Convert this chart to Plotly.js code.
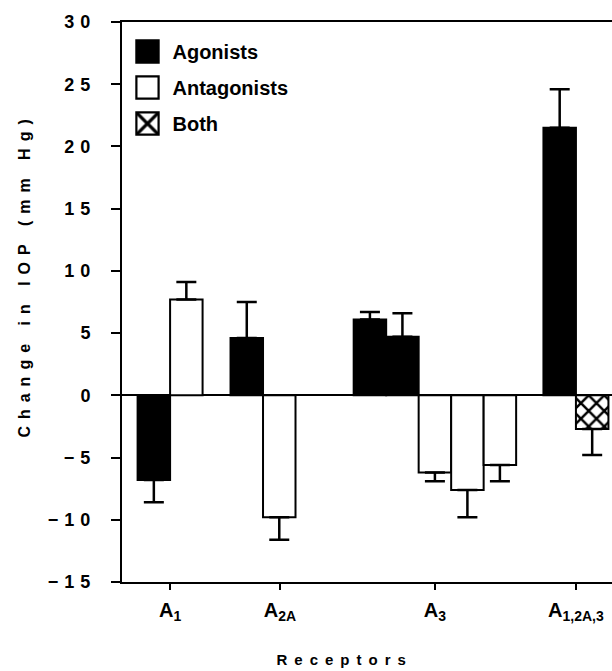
<!DOCTYPE html>
<html>
<head>
<meta charset="utf-8">
<script src="https://cdn.plot.ly/plotly-3.0.1.min.js"></script>
<style>
  html, body { margin: 0; padding: 0; background: #ffffff; }
  #chart { width: 612px; height: 671px; }
</style>
</head>
<body>
<div id="chart"></div>
<script>
// ---- data ----
const receptorLabels = ['A<sub>1</sub>', 'A<sub>2A</sub>', 'A<sub>3</sub>', 'A<sub>1,2A,3</sub>'];
const receptorPos = [1.48, 4.86, 9.63, 13.97];

const agonistX = [0.98, 3.84, 7.63, 8.63, 13.47];
const agonistY = [-6.8, 4.6, 6.1, 4.7, 21.5];
const agonistErr = [1.8, 2.9, 0.6, 1.9, 3.1];

const antagonistX = [1.98, 4.84, 9.63, 10.63, 11.63];
const antagonistY = [7.7, -9.8, -6.2, -7.6, -5.6];
const antagonistErr = [1.4, 1.8, 0.7, 2.2, 1.3];

const bothX = [14.47];
const bothY = [-2.7];
const bothErr = [2.1];

const yTicks = [-15, -10, -5, 0, 5, 10, 15, 20, 25, 30];

// one-sided (outward) error bars
function errUp(vals, errs) { return vals.map((v, i) => v >= 0 ? errs[i] : 0); }
function errDown(vals, errs) { return vals.map((v, i) => v < 0 ? errs[i] : 0); }

const FONT = 'Liberation Sans, Arial, Helvetica, sans-serif';
const errStyle = (vals, errs) => ({
  type: 'data', symmetric: false,
  array: errUp(vals, errs), arrayminus: errDown(vals, errs),
  color: '#000', thickness: 2.5, width: 10
});

const traces = [
  {
    type: 'bar', name: 'Agonists', legendgroup: 'a',
    x: agonistX, y: agonistY, width: 1,
    marker: { color: '#000', line: { color: '#000', width: 2 } },
    error_y: errStyle(agonistY, agonistErr)
  },
  {
    type: 'bar', name: 'Antagonists', legendgroup: 'b',
    x: antagonistX, y: antagonistY, width: 1,
    marker: { color: '#fff', line: { color: '#000', width: 2 } },
    error_y: errStyle(antagonistY, antagonistErr)
  },
  {
    type: 'bar', name: 'Both', legendgroup: 'c',
    x: bothX, y: bothY, width: 1,
    marker: {
      color: '#fff', line: { color: '#000', width: 2 },
      pattern: { shape: 'x', fgcolor: '#000', bgcolor: '#fff', size: 11, solidity: 0.4 }
    },
    error_y: errStyle(bothY, bothErr)
  }
];

const layout = {
  width: 612, height: 671,
  margin: { l: 122, r: 0, t: 22, b: 89 },
  paper_bgcolor: '#fff', plot_bgcolor: '#fff',
  barmode: 'overlay',
  showlegend: true,
  legend: {
    x: 0.001, y: 0.982, xanchor: 'left', yanchor: 'top',
    bgcolor: 'rgba(0,0,0,0)', borderwidth: 0,
    font: { family: FONT, size: 20, color: '#000', weight: 'bold' },
    itemwidth: 40, tracegroupgap: 7, traceorder: 'grouped'
  },
  xaxis: {
    range: [0, 15.08], showgrid: false, zeroline: false,
    showline: true, mirror: true, linecolor: '#000', linewidth: 2,
    ticks: 'outside', ticklen: 6, tickwidth: 2, tickcolor: '#000',
    tickmode: 'array', tickvals: receptorPos, ticktext: receptorLabels,
    tickfont: { family: FONT, size: 20, color: '#000', weight: 'bold' },
    ticklabelstandoff: 3
  },
  yaxis: {
    range: [-15, 30], showgrid: false,
    zeroline: true, zerolinecolor: '#000', zerolinewidth: 2,
    showline: true, linecolor: '#000', linewidth: 2,
    ticks: 'outside', ticklen: 9, tickwidth: 2, tickcolor: '#000',
    tickmode: 'array', tickvals: yTicks,
    tickfont: { family: FONT, size: 18, color: '#000', weight: 'bold' },
    ticklabelstandoff: 11
  },
  annotations: [
    {
      text: 'Change in IOP (mm Hg)', textangle: -90,
      xref: 'paper', yref: 'paper', x: -0.2, y: 0.548,
      xanchor: 'center', yanchor: 'middle', showarrow: false,
      font: { family: FONT, size: 16, color: '#000', weight: 'bold' }
    },
    {
      text: 'Receptors',
      xref: 'paper', yref: 'paper', x: 0.455, y: -0.139,
      xanchor: 'center', yanchor: 'middle', showarrow: false,
      font: { family: FONT, size: 15, color: '#000', weight: 'bold' }
    }
  ]
};

Plotly.newPlot('chart', traces, layout, { displayModeBar: false, staticPlot: true }).then(function (gd) {
  // wide letter spacing as in the reference typography
  gd.querySelectorAll('.ytick text').forEach(function (t) { t.style.letterSpacing = '6px'; });
  gd.querySelectorAll('.annotation-text').forEach(function (t) { t.style.letterSpacing = '7px'; });
  // larger legend swatches (keep plotly's own centring translate, drop the legend clip)
  gd.querySelectorAll('.legend [clip-path]').forEach(function (e) { e.removeAttribute('clip-path'); });
  gd.querySelectorAll('.legend .legendpoints path').forEach(function (p) {
    var tr = p.getAttribute('transform') || '';
    p.setAttribute('transform', tr + ' scale(1.85)');
    p.style.strokeWidth = '1.2px';
  });
});
</script>
</body>
</html>
